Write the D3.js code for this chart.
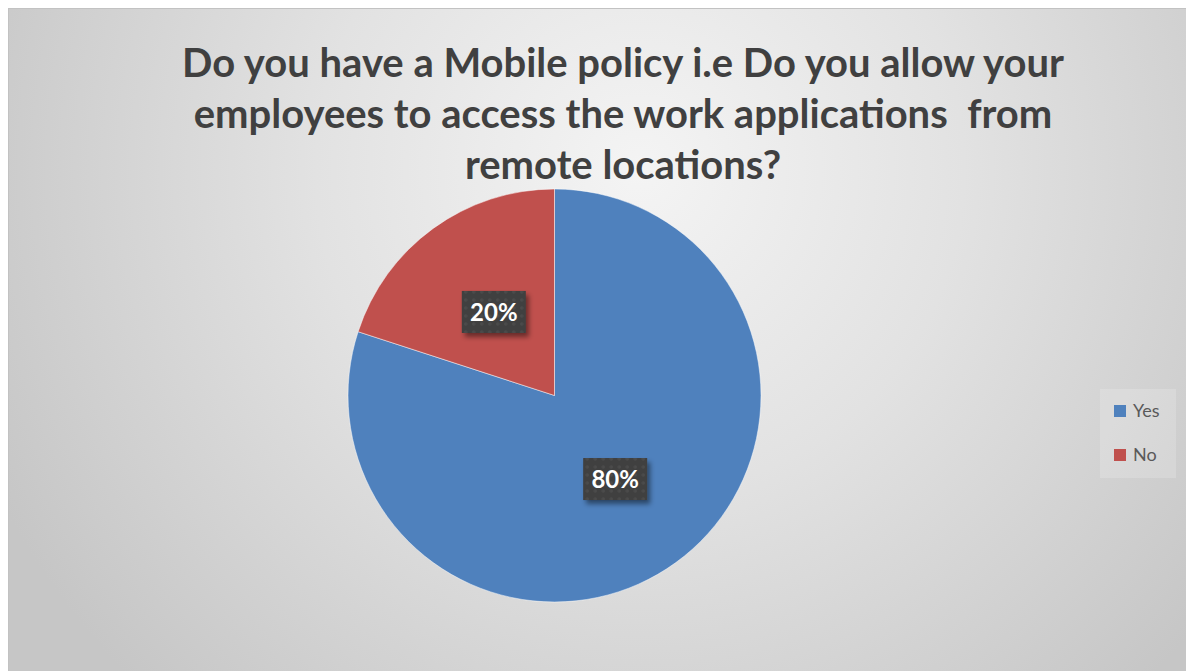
<!DOCTYPE html>
<html>
<head>
<meta charset="utf-8">
<script src="https://cdn.jsdelivr.net/npm/d3@7"></script>
<style>
  html, body { margin: 0; padding: 0; background: #ffffff; }
  svg { display: block; }
  .title text { white-space: pre; }
</style>
</head>
<body>
<svg id="chart" width="1186" height="671"></svg>
<script>
// Survey answers
const categories = ["Yes", "No"];
const values = [80, 20];
const sliceColors = ["#4f81bd", "#c0504d"];
const titleLines = [
  "Do you have a Mobile policy i.e Do you allow your",
  "employees to access the work applications  from",
  "remote locations?"
];

const W = 1186, H = 671;
const svg = d3.select("#chart");
const defs = svg.append("defs");

// Soft radial backdrop
const bg = defs.append("radialGradient")
  .attr("id", "bgGrad")
  .attr("gradientUnits", "userSpaceOnUse")
  .attr("cx", 640).attr("cy", 170).attr("r", 720);
bg.append("stop").attr("offset", 0).attr("stop-color", "#f4f4f4");
bg.append("stop").attr("offset", 0.45).attr("stop-color", "#e2e2e2");
bg.append("stop").attr("offset", 1).attr("stop-color", "#c6c6c6");

// Dotted fill for the value callouts
const pat = defs.append("pattern")
  .attr("id", "dots")
  .attr("patternUnits", "userSpaceOnUse")
  .attr("width", 8).attr("height", 8);
pat.append("rect").attr("width", 8).attr("height", 8).attr("fill", "#3f3f3f");
pat.append("circle").attr("cx", 4).attr("cy", 4).attr("r", 1.8).attr("fill", "#4b4b4b");

const shadow = defs.append("filter").attr("id", "shadow")
  .attr("x", "-20%").attr("y", "-20%").attr("width", "150%").attr("height", "160%");
shadow.append("feDropShadow")
  .attr("dx", 3).attr("dy", 4).attr("stdDeviation", 2.5)
  .attr("flood-color", "#000").attr("flood-opacity", 0.45);

// Chart area
svg.append("rect")
  .attr("x", 8.5).attr("y", 8.5)
  .attr("width", W).attr("height", H)
  .attr("fill", "url(#bgGrad)")
  .attr("stroke", "#c2c2c2").attr("stroke-width", 1);

// Title
const titleG = svg.append("g")
  .attr("class", "title")
  .attr("font-family", "Lato, 'Open Sans', sans-serif")
  .attr("font-weight", 700)
  .attr("fill", "#404040")
  .attr("text-anchor", "middle");
const titleX = 623, titleY0 = 77, lineGap = 51;
const tNodes = titleG.selectAll("text").data(titleLines).join("text")
  .attr("x", titleX)
  .attr("y", (d, i) => titleY0 + i * lineGap)
  .attr("font-size", 36)
  .text(d => d);
const w0 = tNodes.nodes()[0].getComputedTextLength();
const titleSize = 36 * 882 / w0;
tNodes.attr("font-size", titleSize);

// Pie
const cx = 554.5, cy = 395.5, r = 206.5;
const total = d3.sum(values);
const pie = d3.pie().sort(null).value(d => d);
const arcs = pie(values);
const arc = d3.arc().innerRadius(0).outerRadius(r);
const pct = d3.format(".0%");

const pieG = svg.append("g").attr("transform", `translate(${cx},${cy})`);
pieG.selectAll("path").data(arcs).join("path")
  .attr("d", arc)
  .attr("fill", (d, i) => sliceColors[i])
  .attr("stroke", "#ffffff")
  .attr("stroke-opacity", 0.6)
  .attr("stroke-width", 0.8);

// Value callouts
const boxW = 64, boxH = 42;
const lab = pieG.selectAll("g.lab").data(arcs).join("g")
  .attr("class", "lab")
  .attr("transform", d => {
    const [x, y] = arc.centroid(d);
    return `translate(${x},${y})`;
  });
lab.append("rect")
  .attr("x", -boxW / 2).attr("y", -boxH / 2)
  .attr("width", boxW).attr("height", boxH)
  .attr("fill", "url(#dots)")
  .attr("filter", "url(#shadow)");
lab.append("text")
  .attr("text-anchor", "middle")
  .attr("dy", "0.37em")
  .attr("font-family", "Lato, 'Open Sans', sans-serif")
  .attr("font-weight", 700)
  .attr("font-size", 24)
  .attr("fill", "#ffffff")
  .text(d => pct(d.value / total));

// Legend
const legG = svg.append("g");
legG.append("rect")
  .attr("x", 1100).attr("y", 389)
  .attr("width", 76).attr("height", 89)
  .attr("fill", "#ffffff").attr("fill-opacity", 0.18);
const legY = d3.scalePoint().domain(categories).range([411, 455]);
const items = legG.selectAll("g.item").data(categories).join("g")
  .attr("class", "item")
  .attr("transform", d => `translate(1114,${legY(d)})`);
items.append("rect")
  .attr("x", 0).attr("y", -6)
  .attr("width", 12).attr("height", 12)
  .attr("fill", (d, i) => sliceColors[i]);
items.append("text")
  .attr("x", 19).attr("y", 0).attr("dy", "0.36em")
  .attr("font-family", "Lato, 'Open Sans', sans-serif")
  .attr("font-size", 18)
  .attr("fill", "#595959")
  .text(d => d);
</script>
</body>
</html>
